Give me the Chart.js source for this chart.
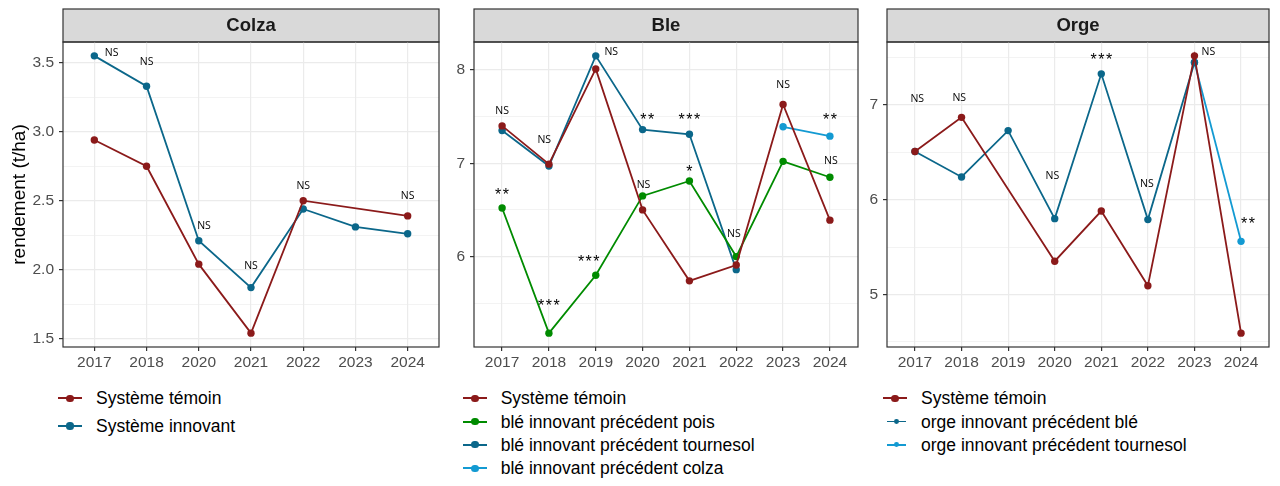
<!DOCTYPE html>
<html>
<head>
<meta charset="utf-8">
<script src="https://cdn.jsdelivr.net/npm/chart.js@4.4.1/dist/chart.umd.min.js"></script>
<style>
  body { margin: 0; background: #fff; font-family: Arial, "Liberation Sans", sans-serif; }
  #page { position: relative; width: 1280px; height: 486px; overflow: hidden; }
  canvas { position: absolute; top: 0; }
  .item { position: absolute; height: 20px; width: 380px; }
  .item .ln { position: absolute; }
  .item .dot { position: absolute; border-radius: 50%; }
  .item .txt { position: absolute; top: 0; line-height: 20px; font-size: 17.5px; color: #000; white-space: nowrap; }
</style>
</head>
<body>
<div id="page">
  <canvas id="colza" width="445" height="372" style="left:0px"></canvas>
  <canvas id="ble" width="420" height="372" style="left:445px"></canvas>
  <canvas id="orge" width="415" height="372" style="left:865px"></canvas>
</div>
<script>
// ---- data ----
const colzaYears = ['2017', '2018', '2020', '2021', '2022', '2023', '2024'];
const colzaTemoin = [2.94, 2.75, 2.04, 1.54, 2.50, null, 2.39];
const colzaInnovant = [3.55, 3.33, 2.21, 1.87, 2.44, 2.31, 2.26];
const colzaYTicks = ['1.5', '2.0', '2.5', '3.0', '3.5'];
const colzaSig = ['NS', 'NS', 'NS', 'NS', 'NS', '', 'NS'];
const colzaSigY = [3.58, 3.51, 2.32, 2.03, 2.61, null, 2.54];

const bleYears = ['2017', '2018', '2019', '2020', '2021', '2022', '2023', '2024'];
const bleTemoin = [7.40, 6.99, 8.01, 6.50, 5.74, 5.91, 7.63, 6.39];
const blePois = [6.52, 5.18, 5.80, 6.65, 6.81, 6.00, 7.02, 6.85];
const bleTournesol = [7.35, 6.97, 8.15, 7.36, 7.31, 5.86, null, null];
const bleColza = [null, null, null, null, null, null, 7.39, 7.29];
const bleYTicks = ['6', '7', '8'];
const bleSigTop = ['NS', 'NS', 'NS', '**', '***', 'NS', 'NS', '**'];
const bleSigTopY = [7.57, 7.26, 8.20, 7.51, 7.51, 6.25, 7.85, 7.51];
const bleSigPois = ['**', '***', '***', 'NS', '*', '', '', 'NS'];
const bleSigPoisY = [6.70, 5.51, 5.99, 6.78, 6.95, null, null, 7.03];

const orgeYears = ['2017', '2018', '2019', '2020', '2021', '2022', '2023', '2024'];
const orgeTemoin = [6.51, 6.87, null, 5.35, 5.88, 5.09, 7.52, 4.59];
const orgeBle = [6.51, 6.24, 6.73, 5.80, 7.33, 5.79, 7.45, null];
const orgeTournesol = [null, null, null, null, null, null, 7.45, 5.56];
const orgeYTicks = ['5', '6', '7'];
const orgeSig = ['NS', 'NS', '', 'NS', '***', 'NS', 'NS', '**'];
const orgeSigY = [7.07, 7.08, null, 6.26, 7.52, 6.17, 7.57, 5.79];

// ---- styling ----
const RED = '#8b1a1a', GREEN = '#008b00', BLUE = '#0b678a', LIGHT = '#139ad2';
const FONT = 'Arial, "Liberation Sans", sans-serif';

const facetPlugin = {
  id: 'facet',
  beforeDraw(chart, args, opts) {
    const { ctx, chartArea: a } = chart;
    ctx.save();
    ctx.fillStyle = '#d9d9d9';
    ctx.fillRect(a.left, a.top - 33, a.right - a.left, 33);
    ctx.strokeStyle = '#333333';
    ctx.lineWidth = 1.2;
    ctx.strokeRect(a.left, a.top - 33, a.right - a.left, 33);
    ctx.fillStyle = '#1a1a1a';
    ctx.font = 'bold 18.5px ' + FONT;
    ctx.textAlign = 'center';
    ctx.textBaseline = 'middle';
    ctx.fillText(opts.title, (a.left + a.right) / 2, a.top - 16);
    ctx.restore();
  },
  afterDatasetsDraw(chart, args, opts) {
    const { ctx, scales: { x, y } } = chart;
    ctx.save();
    ctx.fillStyle = '#000';
    ctx.textAlign = 'center';
    ctx.textBaseline = 'alphabetic';
    opts.labels.forEach(set => {
      set.text.forEach((t, i) => {
        if (!t) return;
        const px = x.getPixelForValue(i + (set.dx ? set.dx[i] : 0));
        const py = y.getPixelForValue(set.y[i]);
        if (t.includes('*')) {
          ctx.font = '16px ' + FONT;
          ctx.letterSpacing = '1.5px';
          ctx.fillText(t, px + 0.75, py + 9);
        } else {
          ctx.font = '10.5px "Open Sans", sans-serif';
          ctx.letterSpacing = '0px';
          ctx.fillText(t, px, py + 3.8);
        }
      });
    });
    ctx.restore();
  },
  afterDraw(chart) {
    const { ctx, chartArea: a } = chart;
    ctx.save();
    ctx.strokeStyle = '#333333';
    ctx.lineWidth = 1.2;
    ctx.strokeRect(a.left, a.top, a.right - a.left, a.bottom - a.top);
    ctx.restore();
  }
};

function makeChart(id, p) {
  const all = p.series.flatMap(s => s.values).filter(v => v != null);
  const lo = Math.min(...all), hi = Math.max(...all);
  const pad = (hi - lo) * 0.05;
  const yMin = lo - pad, yMax = hi + pad;
  const major = p.yTicks.map(Number);
  const half = (major[1] - major[0]) / 2;
  const grid = [];
  for (let v = Math.ceil(yMin / half) * half; v <= yMax + 1e-9; v += half) grid.push(+v.toFixed(4));
  const isMajor = v => major.some(t => Math.abs(t - v) < 1e-6);
  const labelOf = v => p.yTicks[major.findIndex(t => Math.abs(t - v) < 1e-6)];

  return new Chart(document.getElementById(id), {
    type: 'line',
    data: {
      datasets: p.series.map(s => ({
        label: s.label,
        data: s.values.map((v, i) => v == null ? null : { x: i, y: v }).filter(Boolean),
        borderColor: s.color,
        backgroundColor: s.color,
        pointBackgroundColor: s.color,
        pointBorderWidth: 0,
        pointRadius: 3.7,
        borderWidth: 1.8,
        tension: 0
      }))
    },
    options: {
      responsive: false,
      animation: false,
      layout: { padding: { left: 0, right: p.padRight, top: 42, bottom: 0 } },
      plugins: {
        legend: { display: false },
        tooltip: { enabled: false },
        facet: { title: p.title, labels: p.labels }
      },
      scales: {
        x: {
          type: 'linear',
          min: -0.6,
          max: p.years.length - 0.4,
          bounds: 'data',
          afterBuildTicks: s => { s.ticks = p.years.map((_, i) => ({ value: i })); },
          afterFit: s => { s.height = 25; },
          ticks: {
            callback: v => p.years[v],
            color: '#4d4d4d',
            font: { size: 15.5, family: FONT },
            padding: 2,
            autoSkip: false,
            maxRotation: 0
          },
          grid: { color: '#ebebeb', lineWidth: 1.2, tickLength: 4, tickColor: '#333333', tickWidth: 1.2 },
          border: { display: false }
        },
        y: {
          type: 'linear',
          min: yMin,
          max: yMax,
          bounds: 'data',
          afterBuildTicks: s => { s.ticks = grid.map(v => ({ value: v })); },
          afterFit: s => { s.width = p.yAxisWidth; },
          ticks: {
            callback: v => isMajor(v) ? labelOf(v) : '',
            color: '#4d4d4d',
            font: { size: 15.5, family: FONT },
            padding: 5,
            autoSkip: false
          },
          grid: {
            color: '#ebebeb',
            lineWidth: c => (c.tick && !isMajor(c.tick.value)) ? 0.6 : 1.2,
            tickLength: 4,
            tickWidth: 1.2,
            tickColor: c => (c.tick && !isMajor(c.tick.value)) ? 'rgba(0,0,0,0)' : '#333333'
          },
          border: { display: false },
          title: p.yTitle ? {
            display: true,
            text: p.yTitle,
            color: '#000',
            font: { size: 19, family: FONT },
            padding: { top: 8, bottom: 0 }
          } : { display: false }
        }
      }
    },
    plugins: [facetPlugin]
  });
}

function makeLegend(chart, lg) {
  const page = document.getElementById('page');
  chart.data.datasets.forEach((ds, i) => {
    const small = lg.small && lg.small[i];
    const row = document.createElement('div');
    row.className = 'item';
    row.style.left = lg.left + 'px';
    row.style.top = (lg.top + i * lg.gap) + 'px';
    const ln = document.createElement('span');
    ln.className = 'ln';
    const lw = small ? 19 : 24, lt = small ? 1.3 : 2, r = small ? 2.4 : 3.6;
    const lx = small ? 4 : 0;
    ln.style.cssText = `left:${lx}px;width:${lw}px;top:${10 - lt / 2}px;height:${lt}px;background:${ds.borderColor}`;
    const dot = document.createElement('span');
    dot.className = 'dot';
    dot.style.cssText = `left:${lx + lw / 2 - r}px;top:${10 - r}px;width:${2 * r}px;height:${2 * r}px;background:${ds.borderColor}`;
    const txt = document.createElement('span');
    txt.className = 'txt';
    txt.style.left = lg.textOffset + 'px';
    txt.textContent = ds.label;
    row.append(ln, dot, txt);
    page.appendChild(row);
  });
}

const colzaChart = makeChart('colza', {
  title: 'Colza',
  years: colzaYears,
  yTicks: colzaYTicks,
  yTitle: 'rendement (t/ha)',
  yAxisWidth: 63,
  padRight: 6,
  series: [
    { label: 'Système témoin', values: colzaTemoin, color: RED },
    { label: 'Système innovant', values: colzaInnovant, color: BLUE }
  ],
  labels: [{ text: colzaSig, y: colzaSigY, dx: [0.33, 0, 0.1, 0, 0, 0, 0] }]
});

const bleChart = makeChart('ble', {
  title: 'Ble',
  years: bleYears,
  yTicks: bleYTicks,
  yAxisWidth: 29,
  padRight: 7,
  series: [
    { label: 'Système témoin', values: bleTemoin, color: RED },
    { label: 'blé innovant précédent pois', values: blePois, color: GREEN },
    { label: 'blé innovant précédent tournesol', values: bleTournesol, color: BLUE },
    { label: 'blé innovant précédent colza', values: bleColza, color: LIGHT }
  ],
  labels: [
    { text: bleSigTop, y: bleSigTopY, dx: [0, -0.1, 0.33, 0.1, 0, -0.05, 0, 0] },
    { text: bleSigPois, y: bleSigPoisY, dx: [0, 0, -0.15, 0.02, 0, 0, 0, 0.02] }
  ]
});

const orgeChart = makeChart('orge', {
  title: 'Orge',
  years: orgeYears,
  yTicks: orgeYTicks,
  yAxisWidth: 22,
  padRight: 11,
  series: [
    { label: 'Système témoin', values: orgeTemoin, color: RED },
    { label: 'orge innovant précédent blé', values: orgeBle, color: BLUE },
    { label: 'orge innovant précédent tournesol', values: orgeTournesol, color: LIGHT }
  ],
  labels: [{ text: orgeSig, y: orgeSigY, dx: [0.05, -0.05, 0, -0.05, 0, -0.02, 0.3, 0.15] }]
});

makeLegend(colzaChart, { left: 58, top: 388.3, gap: 27.7, textOffset: 38 });
makeLegend(bleChart, { left: 463, top: 388.3, gap: 23.3, textOffset: 37.7 });
makeLegend(orgeChart, { left: 883, top: 388.3, gap: 23.3, textOffset: 38, small: [false, true, true] });
</script>
</body>
</html>
